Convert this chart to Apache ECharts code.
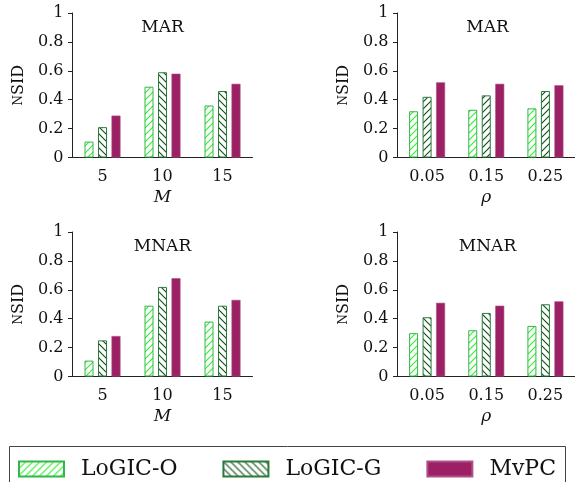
<!DOCTYPE html>
<html>
<head>
<meta charset="utf-8">
<script src="https://cdn.jsdelivr.net/npm/echarts@6/dist/echarts.min.js"></script>
<style>
  html, body { margin: 0; padding: 0; background: #fff; }
  #chart { width: 575px; height: 482px; }
</style>
</head>
<body>
<div id="chart"></div>
<script>
// categories for the two x variables
const mCats = ['5', '10', '15']
const rhoCats = ['0.05', '0.15', '0.25']
const yTicks = [0, 0.2, 0.4, 0.6, 0.8, 1]
const methods = ['LoGIC-O', 'LoGIC-G', 'MvPC']

// MAR, x = M
const marM_O = [0.11, 0.49, 0.36]
const marM_G = [0.21, 0.59, 0.46]
const marM_P = [0.29, 0.58, 0.51]
// MAR, x = rho
const marR_O = [0.32, 0.33, 0.34]
const marR_G = [0.42, 0.43, 0.46]
const marR_P = [0.52, 0.51, 0.50]
// MNAR, x = M
const mnarM_O = [0.11, 0.49, 0.38]
const mnarM_G = [0.25, 0.62, 0.49]
const mnarM_P = [0.28, 0.68, 0.53]
// MNAR, x = rho
const mnarR_O = [0.30, 0.32, 0.35]
const mnarR_G = [0.41, 0.44, 0.50]
const mnarR_P = [0.51, 0.49, 0.52]

const FONT = 'DejaVu Serif'

// small canvas hatch pattern, dir '/' or '\'
function hatch(color, dir) {
  const s = 7
  const c = document.createElement('canvas')
  c.width = s
  c.height = s
  const ctx = c.getContext('2d')
  ctx.fillStyle = '#fff'
  ctx.fillRect(0, 0, s, s)
  ctx.strokeStyle = color
  ctx.lineWidth = 1.1
  ctx.beginPath()
  if (dir === '/') {
    ctx.moveTo(-1, s + 1); ctx.lineTo(s + 1, -1)
    ctx.moveTo(-1, 1); ctx.lineTo(1, -1)
    ctx.moveTo(s - 1, s + 1); ctx.lineTo(s + 1, s - 1)
  } else {
    ctx.moveTo(-1, -1); ctx.lineTo(s + 1, s + 1)
    ctx.moveTo(s - 1, -1); ctx.lineTo(s + 1, 1)
    ctx.moveTo(-1, s - 1); ctx.lineTo(1, s + 1)
  }
  ctx.stroke()
  return { image: c, repeat: 'repeat' }
}

const styleO = { color: hatch('#2cf02c', '/'), borderColor: '#30b848', borderWidth: 1 }
const styleG = { color: hatch('#0a4f12', '\\'), borderColor: '#2a7a3c', borderWidth: 1 }
const styleG2 = { color: hatch('#0a4f12', '/'), borderColor: '#2a7a3c', borderWidth: 1 }
const styleP = { color: '#9b2064', borderColor: '#b05088', borderWidth: 0.6 }

const panels = [
  { title: 'MAR', cats: mCats, xname: 'M', left: 72.5, top: 13, data: [marM_O, marM_G, marM_P], gStyle: styleG },
  { title: 'MAR', cats: rhoCats, xname: 'ρ', left: 397.5, top: 13, data: [marR_O, marR_G, marR_P], gStyle: styleG2 },
  { title: 'MNAR', cats: mCats, xname: 'M', left: 72.5, top: 232, data: [mnarM_O, mnarM_G, mnarM_P], gStyle: styleG },
  { title: 'MNAR', cats: rhoCats, xname: 'ρ', left: 397.5, top: 232, data: [mnarR_O, mnarR_G, mnarR_P], gStyle: styleG }
]

const grid = [], xAxis = [], yAxis = [], series = [], title = []

panels.forEach((p, i) => {
  grid.push({ left: p.left, top: p.top, width: 180, height: 144.5 })
  title.push({
    text: p.title,
    left: p.left + 90,
    top: p.top + 6,
    textAlign: 'center',
    padding: 0,
    textStyle: { fontFamily: FONT, fontSize: 17, fontWeight: 'normal', color: '#111' }
  })
  xAxis.push({
    type: 'category',
    gridIndex: i,
    data: p.cats,
    axisLine: { lineStyle: { color: '#222', width: 1 } },
    axisTick: { show: false },
    axisLabel: { fontFamily: FONT, fontSize: 16, color: '#111', margin: 11 },
    name: p.xname,
    nameLocation: 'middle',
    nameGap: 32,
    nameTextStyle: { fontFamily: FONT, fontSize: 17, fontStyle: 'italic', color: '#111' }
  })
  yAxis.push({
    type: 'value',
    gridIndex: i,
    min: 0,
    max: 1,
    interval: 0.2,
    splitLine: { show: false },
    axisLine: { show: true, lineStyle: { color: '#222', width: 1 } },
    axisTick: { show: true, length: 4.5, lineStyle: { color: '#222' } },
    axisLabel: {
      fontFamily: FONT, fontSize: 16, color: '#111', margin: 9,
      formatter: (v) => (yTicks.indexOf(v) >= 0 && v > 0 && v < 1 ? v.toFixed(1) : String(v))
    },
    name: '{sc|N}SID',
    nameLocation: 'middle',
    nameGap: 46,
    nameRotate: 90,
    nameTextStyle: {
      fontFamily: FONT, fontSize: 16, color: '#111',
      rich: { sc: { fontFamily: FONT, fontSize: 12, color: '#111' } }
    }
  })
  const styles = [styleO, p.gStyle, styleP]
  methods.forEach((m, k) => {
    series.push({
      name: m,
      type: 'bar',
      xAxisIndex: i,
      yAxisIndex: i,
      barWidth: 9,
      barGap: '50%',
      itemStyle: styles[k],
      emphasis: { disabled: true },
      data: p.data[k]
    })
  })
})

const chart = echarts.init(document.getElementById('chart'), null, { renderer: 'canvas' })
chart.setOption({
  animation: false,
  title,
  grid,
  xAxis,
  yAxis,
  series,
  legend: {
    data: methods,
    left: 18,
    top: 458,
    icon: 'rect',
    itemWidth: 45,
    itemHeight: 15,
    itemGap: 45,
    padding: 0,
    textStyle: { fontFamily: FONT, fontSize: 22, color: '#111', padding: [0, 0, 0, 12] }
  },
  graphic: [{
    type: 'rect',
    shape: { x: 9.5, y: 446.5, width: 556, height: 60 },
    style: { fill: 'none', stroke: '#444', lineWidth: 1 },
    silent: true
  }]
})
</script>
</body>
</html>
